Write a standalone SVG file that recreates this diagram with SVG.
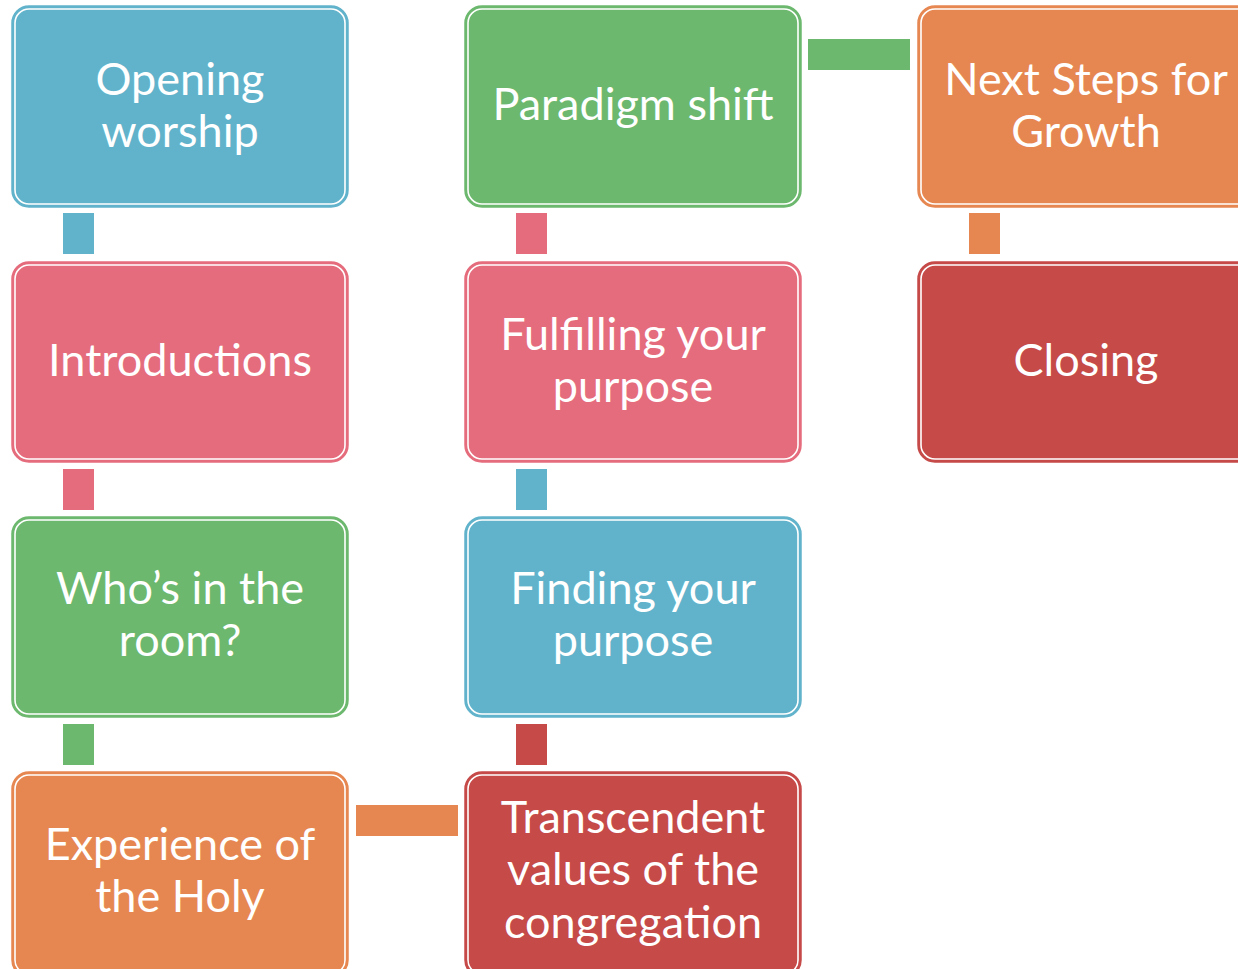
<svg xmlns="http://www.w3.org/2000/svg" width="1238" height="969" viewBox="0 0 1238 969">
<style>
.box{stroke-width:1.5}
.ring{fill:none;stroke:#fff;stroke-width:1.6}
.t{font-family:Lato,"Open Sans",sans-serif;font-size:45px;fill:#fff;text-anchor:middle}
.blue{fill:#61B3CB;stroke:#61B3CB}
.pink{fill:#E56C7C;stroke:#E56C7C}
.green{fill:#6CB86E;stroke:#6CB86E}
.orange{fill:#E68751;stroke:#E68751}
.red{fill:#C54A48;stroke:#C54A48}
</style>
<g id="connectors" stroke="none">
<rect x="63" y="213" width="31" height="41" fill="#61B3CB"/>
<rect x="63" y="469" width="31" height="41" fill="#E56C7C"/>
<rect x="63" y="724" width="31" height="41" fill="#6CB86E"/>
<rect x="356" y="805" width="102" height="31" fill="#E68751"/>
<rect x="516" y="724" width="31" height="41" fill="#C54A48"/>
<rect x="516" y="469" width="31" height="41" fill="#61B3CB"/>
<rect x="516" y="213" width="31" height="41" fill="#E56C7C"/>
<rect x="808" y="39" width="102" height="31" fill="#6CB86E"/>
<rect x="969" y="213" width="31" height="41" fill="#E68751"/>
</g>
<g id="n1"><rect class="box blue" x="12" y="6" width="336" height="201" rx="17"/><rect class="ring" x="15" y="9" width="330" height="195" rx="14"/>
<text class="t" x="180" y="95">Opening</text><text class="t" x="180" y="147">worship</text></g>
<g id="n2"><rect class="box pink" x="12" y="262" width="336" height="200" rx="17"/><rect class="ring" x="15" y="265" width="330" height="194" rx="14"/>
<text class="t" x="180" y="376">Introductions</text></g>
<g id="n3"><rect class="box green" x="12" y="517" width="336" height="200" rx="17"/><rect class="ring" x="15" y="520" width="330" height="194" rx="14"/>
<text class="t" x="180" y="604">Who’s in the</text><text class="t" x="180" y="656">room?</text></g>
<g id="n4"><rect class="box orange" x="12" y="772" width="336" height="205" rx="17"/><rect class="ring" x="15" y="775" width="330" height="199" rx="14"/>
<text class="t" x="180" y="860">Experience of</text><text class="t" x="180" y="912">the Holy</text></g>
<g id="n5"><rect class="box red" x="465" y="772" width="336" height="205" rx="17"/><rect class="ring" x="468" y="775" width="330" height="199" rx="14"/>
<text class="t" x="633" y="833">Transcendent</text><text class="t" x="633" y="885">values of the</text><text class="t" x="633" y="938">congregation</text></g>
<g id="n6"><rect class="box blue" x="465" y="517" width="336" height="200" rx="17"/><rect class="ring" x="468" y="520" width="330" height="194" rx="14"/>
<text class="t" x="633" y="604">Finding your</text><text class="t" x="633" y="656">purpose</text></g>
<g id="n7"><rect class="box pink" x="465" y="262" width="336" height="200" rx="17"/><rect class="ring" x="468" y="265" width="330" height="194" rx="14"/>
<text class="t" x="633" y="350">Fulfilling your</text><text class="t" x="633" y="402">purpose</text></g>
<g id="n8"><rect class="box green" x="465" y="6" width="336" height="201" rx="17"/><rect class="ring" x="468" y="9" width="330" height="195" rx="14"/>
<text class="t" x="633" y="120">Paradigm shift</text></g>
<g id="n9"><rect class="box orange" x="918" y="6" width="336" height="201" rx="17"/><rect class="ring" x="921" y="9" width="330" height="195" rx="14"/>
<text class="t" x="1086" y="95">Next Steps for</text><text class="t" x="1086" y="147">Growth</text></g>
<g id="n10"><rect class="box red" x="918" y="262" width="336" height="200" rx="17"/><rect class="ring" x="921" y="265" width="330" height="194" rx="14"/>
<text class="t" x="1086" y="376">Closing</text></g>
</svg>
